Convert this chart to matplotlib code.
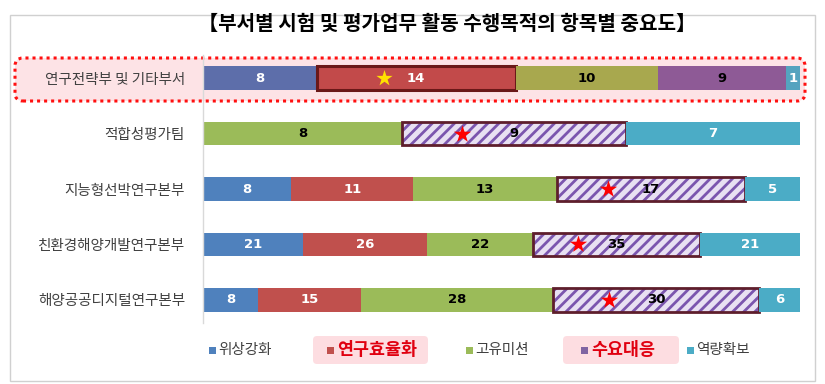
import matplotlib
matplotlib.use("Agg")
import matplotlib.pyplot as plt
from matplotlib.patches import FancyBboxPatch, Rectangle
from matplotlib.transforms import IdentityTransform
import numpy as np

plt.rcParams['font.family'] = ['Noto Sans CJK KR', 'DejaVu Sans']
plt.rcParams['hatch.linewidth'] = 2.0

title = "【부서별 시험 및 평가업무 활동 수행목적의 항목별 중요도】"
categories = ['연구전략부 및 기타부서', '적합성평가팀', '지능형선박연구본부',
              '친환경해양개발연구본부', '해양공공디지털연구본부']
series_names = ['위상강화', '연구효율화', '고유미션', '수요대응', '역량확보']
v_status = [8, 0, 8, 21, 8]
v_efficiency = [14, 0, 11, 26, 15]
v_mission = [10, 8, 13, 22, 28]
v_demand = [9, 9, 17, 35, 30]
v_capacity = [1, 7, 5, 21, 6]

values = np.array([v_status, v_efficiency, v_mission, v_demand, v_capacity], dtype=float)
totals = values.sum(axis=0)
shares = values / totals

colors = ['#4F81BD', '#C0504D', '#9BBB59', '#8064A2', '#4BACC6']
colors_hl = ['#5D6EAA', '#C24A4A', '#A8A84E', '#8E5A96', '#55A3BF']
text_colors = ['white', 'white', 'black', 'black', 'white']

W, H = 825, 384
fig = plt.figure(figsize=(W / 100, H / 100), dpi=100)

def px(x, y):
    return x / W, 1 - y / H

# outer frame
fig.patches.append(Rectangle((10, H - 381), 805, 366, transform=IdentityTransform(),
                             fill=False, edgecolor='#D0D0D0', linewidth=1, zorder=-3))
# highlight box for first row
fig.patches.append(FancyBboxPatch((15, H - 101), 790, 43,
                                  boxstyle='round,pad=0,rounding_size=8',
                                  transform=IdentityTransform(), facecolor='#FDE3E6',
                                  edgecolor='#FF1010', linewidth=2.2,
                                  linestyle=(0, (1, 1.3)), zorder=-2))

ax_l, ax_r, ax_t, ax_b = 203, 800, 55, 323
ax = fig.add_axes([ax_l / W, 1 - ax_b / H, (ax_r - ax_l) / W, (ax_b - ax_t) / H])
ax.patch.set_visible(False)

y = np.arange(len(categories))
bh = 0.43
left = np.zeros(len(categories))
for s in range(len(series_names)):
    for r in range(len(categories)):
        w = shares[s, r]
        if w <= 0:
            continue
        hl = (r == 0)
        c = colors_hl[s] if hl else colors[s]
        if s == 3 and not hl:
            ax.barh(y[r], w, left=left[r], height=bh, color='#E8E0F2',
                    edgecolor='#7B55AE', hatch='///', linewidth=0)
            ax.barh(y[r], w, left=left[r], height=bh, fill=False,
                    edgecolor='#5E1E2C', linewidth=2)
            ax.scatter(left[r] + w * 0.27, y[r], marker='*', s=170, color='#FF0000',
                       zorder=5, linewidths=0)
            tx = left[r] + w / 2
        elif s == 1 and hl:
            ax.barh(y[r], w, left=left[r], height=bh, color=c,
                    edgecolor='#6A1818', linewidth=2.2)
            ax.scatter(left[r] + w * 0.34, y[r], marker='*', s=150, color='#FFE000',
                       zorder=5, linewidths=0)
            tx = left[r] + w / 2
        else:
            ax.barh(y[r], w, left=left[r], height=bh, color=c, linewidth=0)
            tx = left[r] + w / 2
        ax.text(tx, y[r], f"{int(values[s, r])}", ha='center', va='center',
                color=text_colors[s], fontsize=9.5, fontweight='bold',
                family=['Liberation Sans Narrow', 'DejaVu Sans'], zorder=6)
        left[r] += w

ax.set_xlim(0, 1)
ax.set_ylim(len(categories) - 1 + 0.415, -0.415)
ax.set_yticks(y)
ax.set_yticklabels(categories, fontsize=10.5, color='#404040')
ax.tick_params(axis='y', length=0, pad=13)
ax.set_xticks([])
for sp in ['top', 'right', 'bottom']:
    ax.spines[sp].set_visible(False)
ax.spines['left'].set_color('#D9D9D9')
ax.spines['left'].set_linewidth(1)

fig.text(*px(447, 23), title, ha='center', va='center', fontsize=14.5,
         fontweight='bold', color='#000000')

# legend
sq_x = [212, 330, 469, 584, 690]
hl_legend = [False, True, False, True, False]
box_x = {1: (313, 428), 3: (563, 679)}
ly = 350
for i, name in enumerate(series_names):
    if hl_legend[i]:
        x0, x1 = box_x[i]
        fig.patches.append(FancyBboxPatch((x0, H - 364), x1 - x0, 28,
                                          boxstyle='round,pad=0,rounding_size=4',
                                          transform=IdentityTransform(),
                                          facecolor='#FDDDE1', edgecolor='none', zorder=-1))
    fig.patches.append(Rectangle((sq_x[i] - 3.5, H - ly - 3.5), 7, 7,
                                 transform=IdentityTransform(), facecolor=colors[i],
                                 edgecolor='none'))
    if hl_legend[i]:
        fig.text(*px(sq_x[i] + 7, ly), name, ha='left', va='center', fontsize=12.5,
                 fontweight='bold', color='#E00010')
    else:
        fig.text(*px(sq_x[i] + 6, ly), name, ha='left', va='center', fontsize=10.5,
                 color='#404040')

fig.savefig('out.png', dpi=100)
